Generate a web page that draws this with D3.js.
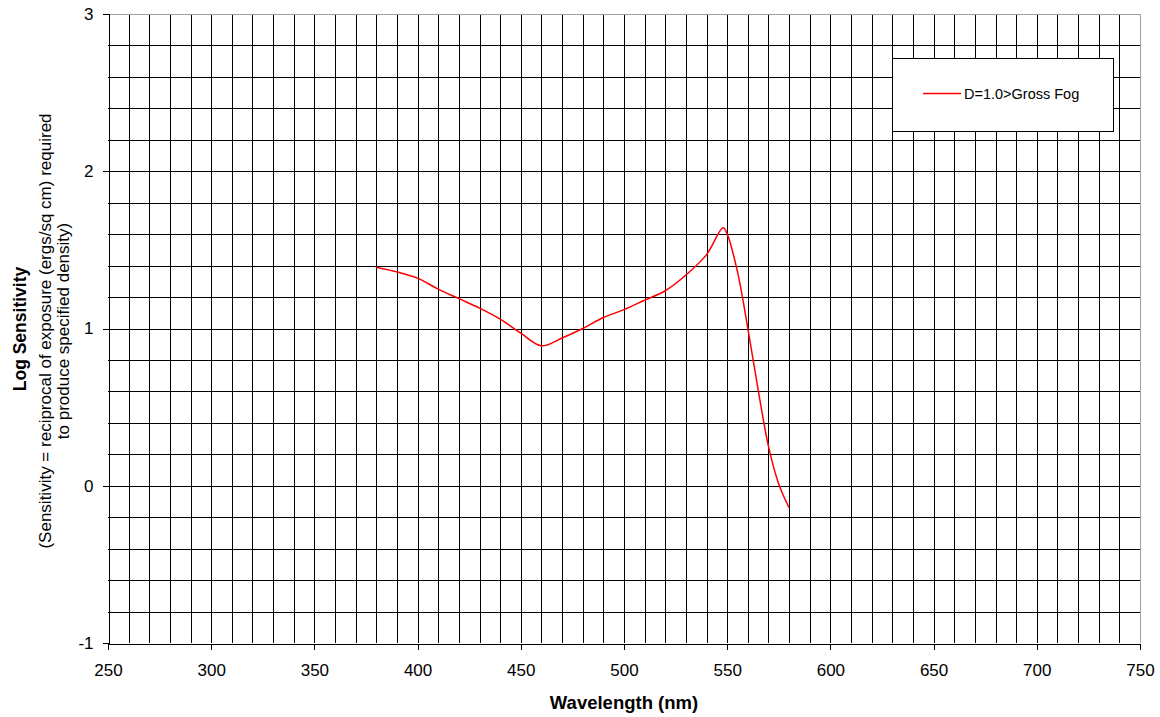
<!DOCTYPE html>
<html>
<head>
<meta charset="utf-8">
<script src="https://cdn.jsdelivr.net/npm/d3@7/dist/d3.min.js"></script>
<style>
  html, body { margin: 0; padding: 0; background: #fff; }
  svg { display: block; font-family: "Liberation Sans", Arial, sans-serif; }
</style>
</head>
<body>
<svg id="chart" width="1160" height="717"></svg>
<script>
// Spectral sensitivity curve (log sensitivity vs wavelength)
const wavelengths = [380, 390, 400, 410, 420, 430, 440, 450, 460, 470, 480, 490, 500,
                     510, 520, 530, 540, 548, 550, 555, 560, 565, 570, 575, 580];
const logSensitivity = [1.39, 1.36, 1.32, 1.25, 1.19, 1.13, 1.06, 0.97, 0.89, 0.94, 1.00, 1.07, 1.12,
                        1.18, 1.24, 1.34, 1.47, 1.64, 1.60, 1.36, 1.00, 0.61, 0.25, 0.01, -0.14];
const seriesName = "D=1.0>Gross Fog";
const xTicks = [250, 300, 350, 400, 450, 500, 550, 600, 650, 700, 750];
const yTicks = [-1, 0, 1, 2, 3];
const xTitle = "Wavelength (nm)";
const yTitle = "Log Sensitivity";
const ySubtitle = ["(Sensitivity = reciprocal of exposure (ergs/sq cm) required",
                   "to produce specified density)"];

const svg = d3.select("#chart");
const plot = { left: 108, right: 1140, top: 14, bottom: 643 };

const x = d3.scaleLinear().domain([250, 750]).range([plot.left, plot.right]);
const y = d3.scaleLinear().domain([-1, 3]).range([plot.bottom, plot.top]);

svg.append("rect").attr("width", 1160).attr("height", 717).attr("fill", "#fff");

// grid: every 10 nm and every 0.2 log units
const grid = svg.append("g").attr("shape-rendering", "crispEdges");
const vGrid = d3.range(260, 750, 10);
const hGrid = d3.range(-0.8, 2.95, 0.2);
grid.selectAll(".vg").data(vGrid).join("line")
  .attr("x1", d => Math.round(x(d)) + 0.5).attr("x2", d => Math.round(x(d)) + 0.5)
  .attr("y1", plot.top).attr("y2", plot.bottom)
  .attr("stroke", "#000").attr("stroke-width", 1);
grid.selectAll(".hg").data(hGrid).join("line")
  .attr("x1", plot.left).attr("x2", plot.right)
  .attr("y1", d => Math.round(y(d)) + 0.5).attr("y2", d => Math.round(y(d)) + 0.5)
  .attr("stroke", "#000").attr("stroke-width", 1);

// plot frame: grey top and right edges
grid.append("line").attr("x1", plot.left).attr("x2", plot.right + 0.5)
  .attr("y1", plot.top + 0.5).attr("y2", plot.top + 0.5).attr("stroke", "#a0a0a0");
grid.append("line").attr("x1", plot.right + 0.5).attr("x2", plot.right + 0.5)
  .attr("y1", plot.top).attr("y2", plot.bottom).attr("stroke", "#a0a0a0");

// axes (plain hyphen for negative labels)
const plain = d => String(d);
const xAxis = d3.axisBottom(x).tickValues(xTicks).tickSize(6).tickPadding(14).tickFormat(plain);
const yAxis = d3.axisLeft(y).tickValues(yTicks).tickSize(6).tickPadding(9).tickFormat(plain);

const gx = svg.append("g").attr("transform", `translate(0,${Math.round(plot.bottom) + 0.5})`).call(xAxis);
const gy = svg.append("g").attr("transform", `translate(${Math.round(plot.left) + 0.5},0)`).call(yAxis);
[gx, gy].forEach(g => {
  g.attr("shape-rendering", "crispEdges");
  g.select(".domain").attr("stroke", "#000");
  g.selectAll(".tick line").attr("stroke", "#000");
  g.selectAll(".tick text").attr("fill", "#000")
    .style("font-size", "17px").style("font-family", "'Liberation Sans', Arial, sans-serif");
});

// axis titles
svg.append("text")
  .attr("x", (plot.left + plot.right) / 2).attr("y", 709)
  .attr("text-anchor", "middle")
  .style("font-size", "18.5px").style("font-weight", "bold")
  .text(xTitle);

const yt = svg.append("g").attr("transform", "rotate(-90)");
yt.append("text").attr("x", -329).attr("y", 26).attr("text-anchor", "middle")
  .style("font-size", "17.5px").style("font-weight", "bold").text(yTitle);
yt.selectAll(".sub").data(ySubtitle).join("text")
  .attr("x", -331).attr("y", (d, i) => 51 + i * 18).attr("text-anchor", "middle")
  .style("font-size", "17px").text(d => d);

// series line
const line = d3.line()
  .x((d, i) => x(wavelengths[i]))
  .y(d => y(d))
  .curve(d3.curveCatmullRom.alpha(0.5));

svg.append("path")
  .datum(logSensitivity)
  .attr("d", line)
  .attr("fill", "none")
  .attr("stroke", "#ff0000")
  .attr("stroke-width", 1.5);

// legend
const lg = svg.append("g");
lg.append("rect").attr("x", 892.5).attr("y", 58.5).attr("width", 221).attr("height", 73)
  .attr("fill", "#fff").attr("stroke", "#000").attr("shape-rendering", "crispEdges");
lg.append("line").attr("x1", 923).attr("x2", 961).attr("y1", 93.5).attr("y2", 93.5)
  .attr("stroke", "#ff0000").attr("stroke-width", 1.5);
lg.append("text").attr("x", 964).attr("y", 98.5)
  .style("font-size", "14.5px").text(seriesName);
</script>
</body>
</html>
